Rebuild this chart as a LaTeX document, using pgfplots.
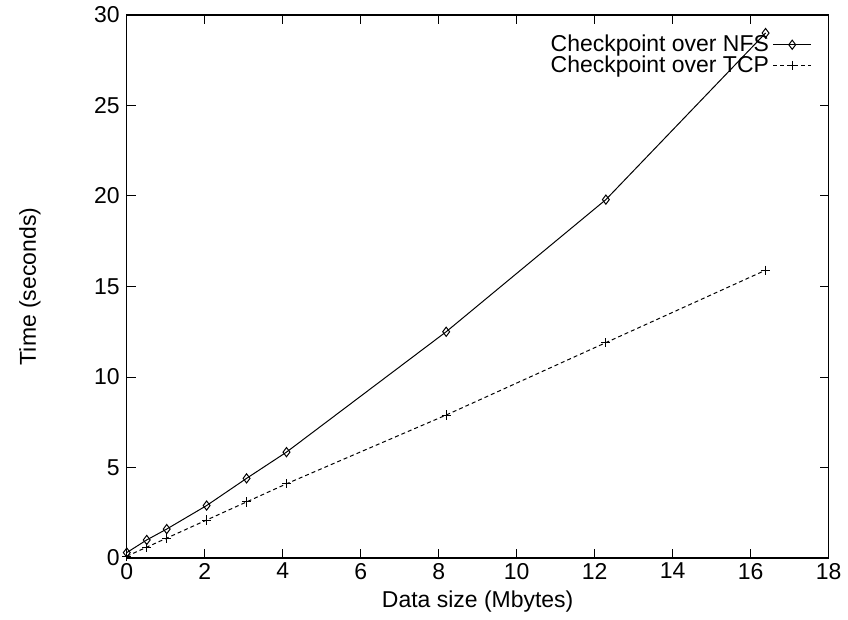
\documentclass[border=0pt]{standalone}
\usepackage{fontspec}
\setmainfont{Liberation Sans}
\usepackage{pgfplots}
\pgfplotsset{compat=1.18}

\begin{document}
\begin{tikzpicture}
    \begin{axis}[
            name=ax,
            scale only axis,
            width=351.5pt,
            height=272pt,
            xmin=0, xmax=18,
            ymin=0, ymax=30,
            xtick={0,2,...,18},
            ytick={0,5,...,30},
            tick align=inside,
            major tick length=4.5pt,
            axis line style={line width=0.6pt},
            tick style={line width=0.5pt, black},
            font=\fontsize{11.5}{13}\selectfont,
            /pgf/number format/assume math mode=true,
            xticklabel style={yshift=1pt},
            xlabel={Data size (Mbytes)},
            ylabel={Time (seconds)},
            xlabel style={at={(axis description cs:0.5,-0.081)}, anchor=center},
            ylabel style={at={(axis description cs:-0.138,0.5)}, anchor=center},
            legend style={
                    at={(0.979,0.975)},
                    anchor=north east,
                    draw=none,
                    fill=none,
                    legend cell align=right,
                    row sep=-3.5pt,
                    inner sep=1pt,
                    font=\fontsize{11.5}{13}\selectfont
                },
            legend plot pos=right,
            legend image code/.code={
                    \draw[mark repeat=2, mark phase=2, #1]
                    plot coordinates {(0cm,0cm) (0.33cm,0cm) (0.66cm,0cm)};
                },
            clip=false
        ]

        % NFS (open diamonds, solid)
        \addplot[
            black,
            line width=0.5pt,
            mark=diamond,
            mark size=2.3pt,
            mark options={solid}
        ] coordinates {
                (0, 0.3) (0.512, 1.0) (1.024, 1.6) (2.048, 2.9)
                (3.072, 4.4) (4.096, 5.85) (8.192, 12.5) (12.288, 19.8)
                (16.384, 29.0)
            };
        \addlegendentry{Checkpoint over NFS}

        % TCP (plus marks, dashed)
        \addplot[
            black,
            line width=0.5pt,
            dash pattern=on 2pt off 1.5pt,
            mark=+,
            mark size=2.3pt,
            mark options={solid}
        ] coordinates {
                (0, 0.1) (0.512, 0.6) (1.024, 1.1) (2.048, 2.1)
                (3.072, 3.1) (4.096, 4.1) (8.192, 7.9) (12.288, 11.9)
                (16.384, 15.9)
            };
        \addlegendentry{Checkpoint over TCP}

    \end{axis}
    % fix the page to the reference's frame
    \path ([xshift=-63.5pt,yshift=-28pt]ax.south west)
        rectangle ([xshift=9pt,yshift=7.5pt]ax.north east);
\end{tikzpicture}
\end{document}
